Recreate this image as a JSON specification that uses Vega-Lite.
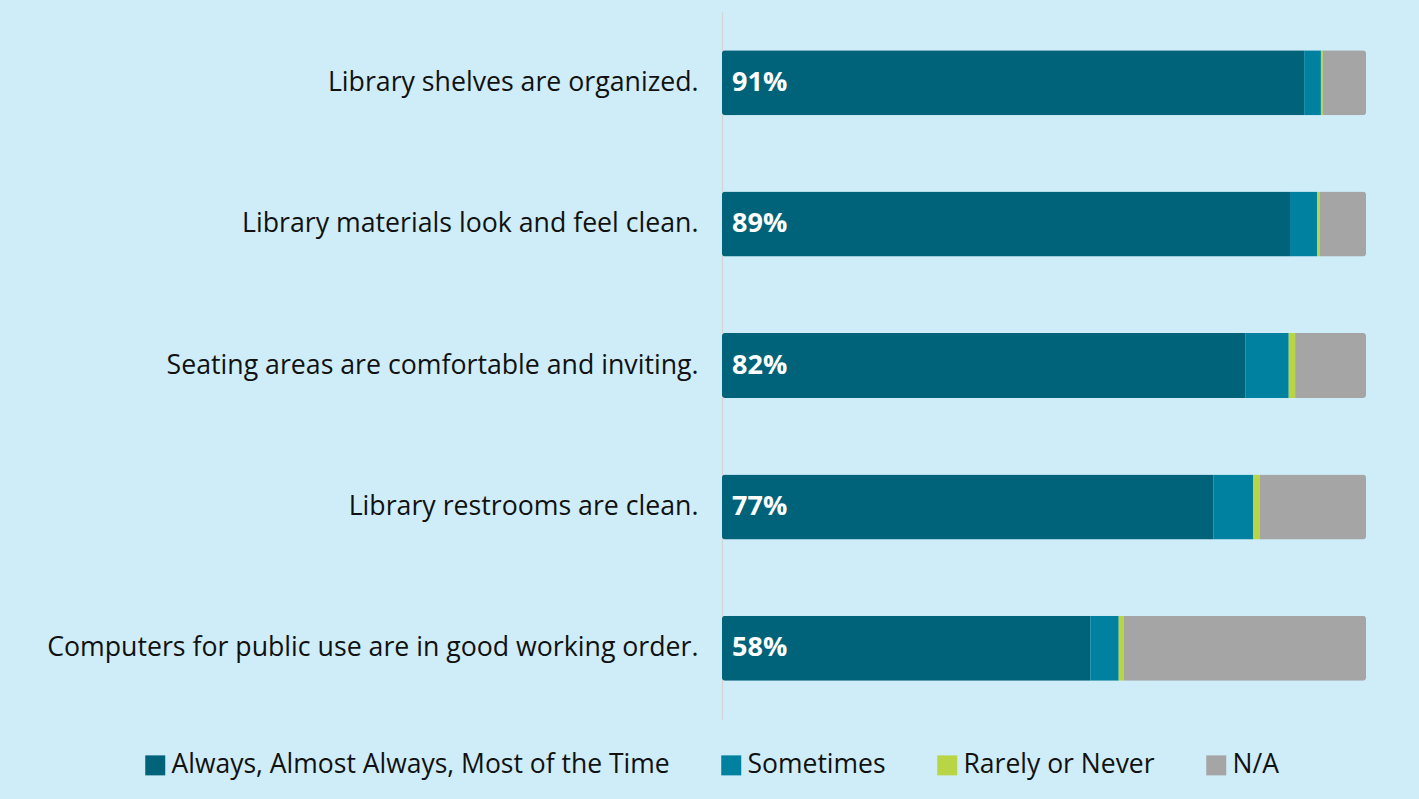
{
  "$schema": "https://vega.github.io/schema/vega-lite/v6.json",
  "autosize": "none",
  "width": 644,
  "height": 707,
  "padding": {"left": 722, "top": 12, "right": 53, "bottom": 80},
  "background": "#cfedf9",
  "config": {"view": {"stroke": null}, "font": "Open Sans"},
  "data": {
    "values": [
      {"item": "Library shelves are organized.", "response": "Always, Almost Always, Most of the Time", "ord": 1, "pct": 90.4, "label": "91%"},
      {"item": "Library shelves are organized.", "response": "Sometimes", "ord": 2, "pct": 2.6, "label": ""},
      {"item": "Library shelves are organized.", "response": "Rarely or Never", "ord": 3, "pct": 0.3, "label": ""},
      {"item": "Library shelves are organized.", "response": "N/A", "ord": 4, "pct": 6.7, "label": ""},
      {"item": "Library materials look and feel clean.", "response": "Always, Almost Always, Most of the Time", "ord": 1, "pct": 88.2, "label": "89%"},
      {"item": "Library materials look and feel clean.", "response": "Sometimes", "ord": 2, "pct": 4.2, "label": ""},
      {"item": "Library materials look and feel clean.", "response": "Rarely or Never", "ord": 3, "pct": 0.4, "label": ""},
      {"item": "Library materials look and feel clean.", "response": "N/A", "ord": 4, "pct": 7.2, "label": ""},
      {"item": "Seating areas are comfortable and inviting.", "response": "Always, Almost Always, Most of the Time", "ord": 1, "pct": 81.3, "label": "82%"},
      {"item": "Seating areas are comfortable and inviting.", "response": "Sometimes", "ord": 2, "pct": 6.7, "label": ""},
      {"item": "Seating areas are comfortable and inviting.", "response": "Rarely or Never", "ord": 3, "pct": 1.0, "label": ""},
      {"item": "Seating areas are comfortable and inviting.", "response": "N/A", "ord": 4, "pct": 11.0, "label": ""},
      {"item": "Library restrooms are clean.", "response": "Always, Almost Always, Most of the Time", "ord": 1, "pct": 76.3, "label": "77%"},
      {"item": "Library restrooms are clean.", "response": "Sometimes", "ord": 2, "pct": 6.2, "label": ""},
      {"item": "Library restrooms are clean.", "response": "Rarely or Never", "ord": 3, "pct": 1.0, "label": ""},
      {"item": "Library restrooms are clean.", "response": "N/A", "ord": 4, "pct": 16.5, "label": ""},
      {"item": "Computers for public use are in good working order.", "response": "Always, Almost Always, Most of the Time", "ord": 1, "pct": 57.2, "label": "58%"},
      {"item": "Computers for public use are in good working order.", "response": "Sometimes", "ord": 2, "pct": 4.4, "label": ""},
      {"item": "Computers for public use are in good working order.", "response": "Rarely or Never", "ord": 3, "pct": 0.8, "label": ""},
      {"item": "Computers for public use are in good working order.", "response": "N/A", "ord": 4, "pct": 37.6, "label": ""}
    ]
  },
  "encoding": {
    "y": {
      "field": "item",
      "type": "nominal",
      "sort": null,
      "scale": {"paddingInner": 0.54, "paddingOuter": 0.27},
      "axis": {
        "title": null,
        "ticks": false,
        "domain": true,
        "domainColor": "#d4d4d4",
        "domainWidth": 1.2,
        "labelFont": "Open Sans",
        "labelFontSize": 26.7,
        "labelColor": "#111111",
        "labelPadding": 24,
        "labelLimit": 700
      }
    }
  },
  "layer": [
    {
      "mark": {"type": "bar", "cornerRadius": 3},
      "encoding": {
        "x": {
          "field": "pct",
          "type": "quantitative",
          "stack": "zero",
          "scale": {"domain": [0, 100], "nice": false},
          "axis": null
        },
        "order": {"field": "ord", "type": "quantitative"},
        "color": {
          "field": "response",
          "type": "nominal",
          "sort": ["Always, Almost Always, Most of the Time", "Sometimes", "Rarely or Never", "N/A"],
          "scale": {
            "domain": ["Always, Almost Always, Most of the Time", "Sometimes", "Rarely or Never", "N/A"],
            "range": ["#00637a", "#0081a0", "#b8d545", "#a5a5a5"]
          },
          "legend": {
            "title": null,
            "orient": "none",
            "direction": "horizontal",
            "legendX": -580,
            "legendY": 740,
            "symbolType": "square",
            "symbolSize": 400,
            "symbolStrokeWidth": 0,
            "symbolOpacity": 1,
            "labelFont": "Open Sans",
            "labelFontSize": 26.5,
            "labelColor": "#111111",
            "labelOffset": 3,
            "labelLimit": 600,
            "columnPadding": 48
          }
        }
      }
    },
    {
      "transform": [{"filter": "datum.ord == 1"}],
      "mark": {"type": "text", "align": "left", "baseline": "middle", "dx": 10, "color": "white", "fontSize": 27, "fontWeight": "bold", "font": "Open Sans"},
      "encoding": {
        "x": {"datum": 0, "type": "quantitative"},
        "text": {"field": "label"}
      }
    }
  ]
}
